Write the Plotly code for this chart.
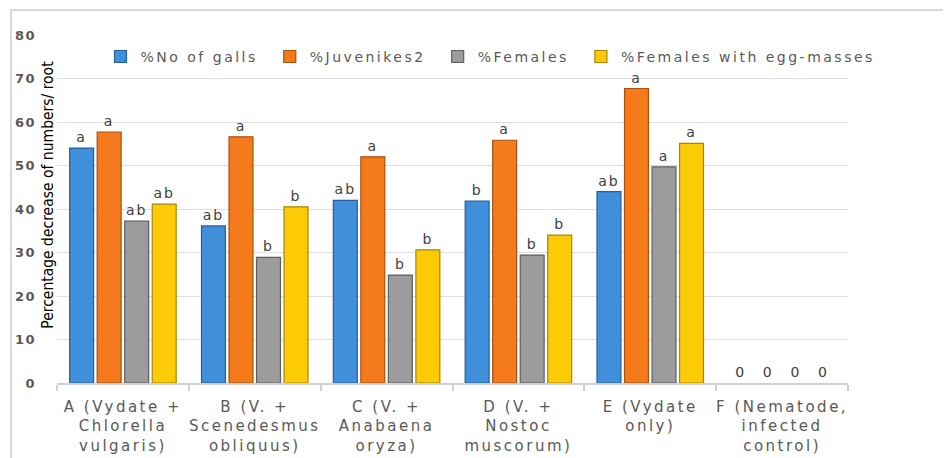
import plotly.graph_objects as go

category_lines = [
    ["A (Vydate +", "Chlorella", "vulgaris)"],
    ["B (V. +", "Scenedesmus", "obliquus)"],
    ["C (V. +", "Anabaena", "oryza)"],
    ["D (V. +", "Nostoc", "muscorum)"],
    ["E (Vydate", "only)"],
    ["F (Nematode,", "infected", "control)"],
]
series_names = ["%No of galls", "%Juvenikes2", "%Females", "%Females with egg-masses"]
galls = [54.0, 36.1, 42.0, 41.8, 44.0, 0]
juveniles = [57.7, 56.6, 52.0, 55.8, 67.7, 0]
females = [37.2, 28.9, 24.8, 29.4, 49.7, 0]
egg_masses = [41.1, 40.5, 30.6, 34.0, 55.1, 0]
labels_galls = ["a", "ab", "ab", "b", "ab", "0"]
labels_juveniles = ["a", "a", "a", "a", "a", "0"]
labels_females = ["ab", "b", "b", "b", "a", "0"]
labels_egg = ["ab", "b", "b", "b", "a", "0"]
y_ticks = [0, 10, 20, 30, 40, 50, 60, 70, 80]


def spaced(s, ls):
    return '<span style="letter-spacing:%spx">%s</span>' % (ls, s)


categories = ["<br>".join(spaced(l, 2.5) for l in lines) for lines in category_lines]

fills = ["#3f8fdb", "#f47a1c", "#9c9c9c", "#fccb06"]
edges = ["#25609e", "#a9500c", "#5e5e5e", "#a88600"]

fig = go.Figure()
for name, vals, labs, fc, ec in zip(
    series_names,
    [galls, juveniles, females, egg_masses],
    [labels_galls, labels_juveniles, labels_females, labels_egg],
    fills, edges,
):
    fig.add_trace(go.Bar(
        name=spaced(name, 2.5) + "\u2002", x=categories, y=vals,
        text=[spaced(t, 2) for t in labs],
        textposition="outside", cliponaxis=False,
        textfont=dict(family="DejaVu Sans", size=14, color="#404040"),
        marker=dict(color=fc,
                    line=dict(color=ec, width=[1.2 if v > 0 else 0 for v in vals])),
    ))

# figure is offset by the page's 8px body margin
fig.update_layout(
    width=943, height=450,
    margin=dict(l=49, r=103, t=27, b=75, autoexpand=False),
    paper_bgcolor="white", plot_bgcolor="white",
    barmode="group", bargap=0.165, bargroupgap=0.13,
    font=dict(family="DejaVu Sans", color="#595959"),
    legend=dict(
        orientation="h", x=0.055, y=0.937,
        xanchor="left", yanchor="middle",
        font=dict(family="DejaVu Sans", size=14, color="#595959"),
        bgcolor="rgba(0,0,0,0)", itemwidth=30, tracegroupgap=0,
    ),
    showlegend=True,
)
fig.update_yaxes(
    range=[0, 80], tickvals=y_ticks, ticktext=[spaced(str(v), 1.5) for v in y_ticks],
    showgrid=True, gridcolor="#dedede", automargin=False,
    gridwidth=1, zeroline=False, showline=False, ticks="",
    ticklabelstandoff=20,
    tickfont=dict(family="DejaVu Sans", size=13, color="#595959", weight="bold"),
)
fig.update_xaxes(
    showline=True, linecolor="#d0d0d0", linewidth=1.5, automargin=False,
    ticks="outside", tickson="boundaries", ticklen=6, tickcolor="#d0d0d0",
    tickwidth=1.5, tickangle=0, ticklabelstandoff=9,
    tickfont=dict(family="DejaVu Sans", size=15, color="#595959"),
)
fig.add_annotation(
    text="Percentage decrease of numbers/ root", textangle=-90,
    xref="paper", yref="paper", x=-0.011, y=0.542, xanchor="center", yanchor="middle",
    showarrow=False,
    font=dict(family="DejaVu Sans Condensed, Liberation Sans Narrow, Liberation Sans",
              size=15.5, color="#000000"),
)
fig.add_shape(
    type="rect", xref="paper", yref="paper",
    x0=(11 - 57) / 791, x1=1.2, y0=-0.4, y1=(383 - 10) / 348,
    line=dict(color="#d9d9d9", width=2), fillcolor="rgba(0,0,0,0)", layer="below",
)
fig.write_html("out.html")
